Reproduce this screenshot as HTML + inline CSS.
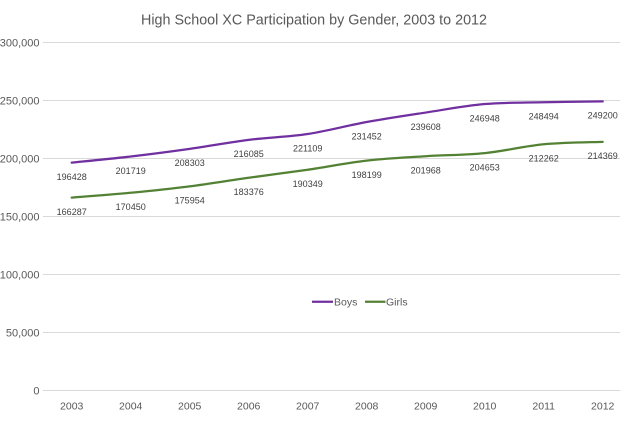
<!DOCTYPE html>
<html>
<head>
<meta charset="utf-8">
<style>
  html, body { margin: 0; padding: 0; background: #ffffff; }
  svg { display: block; }
  text { font-family: "Liberation Sans", Arial, sans-serif; }
</style>
</head>
<body>
<svg width="620" height="430" viewBox="0 0 620 430" xmlns="http://www.w3.org/2000/svg">
  <rect x="0" y="0" width="620" height="430" fill="#ffffff"/>

  <!-- Title -->
  <text x="314" y="24.5" text-anchor="middle" font-size="14.3" fill="#595959" textLength="346" lengthAdjust="spacingAndGlyphs">High School XC Participation by Gender, 2003 to 2012</text>

  <!-- Gridlines -->
  <g stroke="#d9d9d9" stroke-width="1">
    <line x1="43" y1="42.5" x2="620" y2="42.5"/>
    <line x1="43" y1="100.5" x2="620" y2="100.5"/>
    <line x1="43" y1="158.5" x2="620" y2="158.5"/>
    <line x1="43" y1="216.5" x2="620" y2="216.5"/>
    <line x1="43" y1="274.5" x2="620" y2="274.5"/>
    <line x1="43" y1="332.5" x2="620" y2="332.5"/>
    <line x1="43" y1="390.5" x2="620" y2="390.5"/>
  </g>

  <!-- Y axis labels -->
  <g font-size="11" fill="#595959" text-anchor="end">
    <text x="39.5" y="46.5">300,000</text>
    <text x="39.5" y="104.5">250,000</text>
    <text x="39.5" y="162.5">200,000</text>
    <text x="39.5" y="220.5">150,000</text>
    <text x="39.5" y="278.5">100,000</text>
    <text x="39.5" y="336.5">50,000</text>
    <text x="39.5" y="394.6">0</text>
  </g>

  <!-- X axis labels -->
  <g font-size="10.5" fill="#595959" text-anchor="middle">
    <text x="71.7" y="409.3">2003</text>
    <text x="130.7" y="409.3">2004</text>
    <text x="189.7" y="409.3">2005</text>
    <text x="248.7" y="409.3">2006</text>
    <text x="307.7" y="409.3">2007</text>
    <text x="366.7" y="409.3">2008</text>
    <text x="425.7" y="409.3">2009</text>
    <text x="484.7" y="409.3">2010</text>
    <text x="543.7" y="409.3">2011</text>
    <text x="602.7" y="409.3">2012</text>
  </g>

  <!-- Boys line -->
  <path fill="none" stroke="#7030A0" stroke-width="2.25" stroke-linecap="round" stroke-linejoin="round"
    d="M71.7,162.64
       C81.53,161.62 111.03,158.80 130.7,156.5
       C150.37,154.21 170.03,151.65 189.7,148.87
       C209.37,146.09 229.03,142.32 248.7,139.84
       C268.37,137.36 288.03,136.98 307.7,134.01
       C327.37,131.04 347.03,125.60 366.7,122.02
       C386.37,118.44 406.03,115.55 425.7,112.55
       C445.37,109.55 465.03,105.76 484.7,104.04
       C504.37,102.32 524.03,102.69 543.7,102.25
       C563.37,101.82 592.87,101.57 602.7,101.43"/>

  <!-- Girls line -->
  <path fill="none" stroke="#548235" stroke-width="2.25" stroke-linecap="round" stroke-linejoin="round"
    d="M71.7,197.61
       C81.53,196.81 111.03,194.65 130.7,192.78
       C150.37,190.91 170.03,188.89 189.7,186.39
       C209.37,183.89 229.03,180.56 248.7,177.78
       C268.37,175.00 288.03,172.57 307.7,169.70
       C327.37,166.84 347.03,162.84 366.7,160.59
       C386.37,158.34 406.03,157.47 425.7,156.22
       C445.37,154.97 465.03,155.09 484.7,153.10
       C504.37,151.11 524.03,146.16 543.7,144.28
       C563.37,142.40 592.87,142.24 602.7,141.83"/>

  <!-- Boys data labels -->
  <g font-size="9" fill="#404040" text-anchor="middle">
    <text x="71.7" y="179.9">196428</text>
    <text x="130.7" y="173.8">201719</text>
    <text x="189.7" y="166.2">208303</text>
    <text x="248.7" y="157.1">216085</text>
    <text x="307.7" y="151.3">221109</text>
    <text x="366.7" y="139.3">231452</text>
    <text x="425.7" y="129.8">239608</text>
    <text x="484.7" y="121.3">246948</text>
    <text x="543.7" y="119.5">248494</text>
    <text x="602.7" y="118.7">249200</text>
  </g>

  <!-- Girls data labels -->
  <g font-size="9" fill="#404040" text-anchor="middle">
    <text x="71.7" y="214.9">166287</text>
    <text x="130.7" y="210.1">170450</text>
    <text x="189.7" y="203.7">175954</text>
    <text x="248.7" y="195.1">183376</text>
    <text x="307.7" y="187.0">190349</text>
    <text x="366.7" y="177.9">198199</text>
    <text x="425.7" y="173.5">201968</text>
    <text x="484.7" y="170.4">204653</text>
    <text x="543.7" y="161.6">212262</text>
    <text x="602.7" y="159.1">214369</text>
  </g>

  <!-- Legend -->
  <line x1="312" y1="301.7" x2="333" y2="301.7" stroke="#7030A0" stroke-width="2.25"/>
  <text x="334" y="305.5" font-size="10.5" fill="#595959">Boys</text>
  <line x1="365" y1="301.7" x2="385.5" y2="301.7" stroke="#548235" stroke-width="2.25"/>
  <text x="386" y="305.5" font-size="10.5" fill="#595959">Girls</text>
</svg>
</body>
</html>
